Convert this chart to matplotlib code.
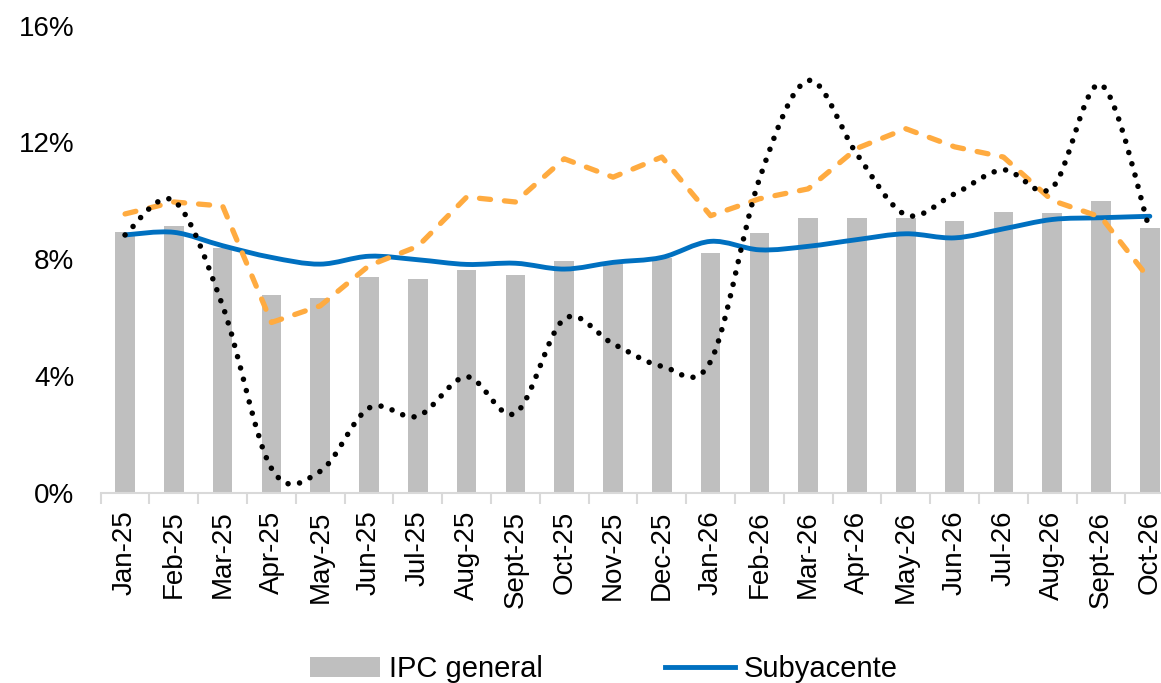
import numpy as np
import matplotlib
matplotlib.use('Agg')
import matplotlib.pyplot as plt
from matplotlib.path import Path
from matplotlib.patches import PathPatch
from matplotlib.lines import Line2D

plt.rcParams['font.family'] = ['Liberation Sans', 'DejaVu Sans']
plt.rcParams['lines.scale_dashes'] = False

months = ['Jan-25', 'Feb-25', 'Mar-25', 'Apr-25', 'May-25', 'Jun-25', 'Jul-25',
          'Aug-25', 'Sept-25', 'Oct-25', 'Nov-25', 'Dec-25', 'Jan-26', 'Feb-26',
          'Mar-26', 'Apr-26', 'May-26', 'Jun-26', 'Jul-26', 'Aug-26', 'Sept-26',
          'Oct-26']

ipc_general = [8.92, 9.15, 8.38, 6.78, 6.67, 7.38, 7.33, 7.63, 7.45, 7.94, 7.85,
               8.05, 8.20, 8.88, 9.42, 9.41, 9.42, 9.32, 9.60, 9.58, 9.99, 9.08]
subyacente = [8.83, 8.92, 8.46, 8.06, 7.83, 8.10, 7.98, 7.82, 7.86, 7.66, 7.89,
              8.06, 8.61, 8.32, 8.44, 8.67, 8.87, 8.73, 9.04, 9.36, 9.42, 9.47]
serie_naranja = [9.55, 9.96, 9.82, 5.83, 6.40, 7.78, 8.44, 10.13, 9.96, 11.44, 10.81,
                 11.50, 9.49, 10.07, 10.41, 11.80, 12.47, 11.85, 11.50, 10.01, 9.44, 7.30]
serie_negra = [8.83, 10.00, 6.40, 0.83, 0.73, 2.90, 2.62, 3.97, 2.72, 5.95, 5.10,
               4.33, 4.50, 10.75, 14.12, 11.59, 9.52, 10.24, 11.06, 10.45, 13.98, 8.99]

yticks = [0, 4, 8, 12, 16]


def smooth_path(x, y):
    # bezier a la Excel (catmull-rom)
    n = len(x)
    verts = [(x[0], y[0])]
    codes = [Path.MOVETO]
    for i in range(n - 1):
        xa, ya = (x[i - 1], y[i - 1]) if i > 0 else (x[i], y[i])
        xb, yb = (x[i + 2], y[i + 2]) if i + 2 < n else (x[i + 1], y[i + 1])
        c1 = (x[i] + (x[i + 1] - xa) / 6, y[i] + (y[i + 1] - ya) / 6)
        c2 = (x[i + 1] - (xb - x[i]) / 6, y[i + 1] - (yb - y[i]) / 6)
        verts += [c1, c2, (x[i + 1], y[i + 1])]
        codes += [Path.CURVE4] * 3
    return Path(verts, codes)


def main():
    fig = plt.figure(figsize=(11.61, 6.83), dpi=100)
    ax = fig.add_axes([0.0867, 0.2788, 0.9247, 0.6835])
    x = np.arange(len(months))

    bars = ax.bar(x, ipc_general, width=0.4, color='#bfbfbf', zorder=1)

    blue = PathPatch(smooth_path(x, subyacente), facecolor='none', edgecolor='#0070c0',
                     lw=3.5, zorder=2)
    blue.set_capstyle('round')
    blue.set_joinstyle('round')
    ax.add_patch(blue)

    ax.plot(x, serie_naranja, color='#ffab40', lw=3.8, dashes=(8.0, 10.0),
            dash_capstyle='round', solid_joinstyle='round', zorder=3)

    black = PathPatch(smooth_path(x, serie_negra), facecolor='none', edgecolor='black',
                      lw=4.0, linestyle=(0, (0.01, 8.4)), zorder=4)
    black.set_capstyle('round')
    ax.add_patch(black)

    ax.set_xlim(-0.5, len(months) - 0.5)
    ax.set_ylim(0, 16)
    ax.set_xticks(x)
    ax.set_xticklabels(months, rotation=90, fontsize=20)
    ax.set_xticks(np.arange(-0.5, len(months), 1), minor=True)
    ax.set_yticks(yticks)
    ax.set_yticklabels([f'{v}%' for v in yticks], fontsize=20)

    ax.tick_params(axis='x', which='major', length=0, pad=13)
    ax.tick_params(axis='x', which='minor', length=8, width=1.5, color='#d9d9d9')
    ax.tick_params(axis='y', length=0, pad=19)
    for s in ['top', 'right', 'left']:
        ax.spines[s].set_visible(False)
    ax.spines['bottom'].set_color('#d9d9d9')
    ax.spines['bottom'].set_linewidth(1.5)

    handles = [bars, Line2D([], [], color='#0070c0', lw=3.5)]
    fig.legend(handles, ['IPC general', 'Subyacente'], loc='center', ncol=2,
               bbox_to_anchor=(0.52, 0.02), bbox_transform=fig.transFigure,
               frameon=False, fontsize=21, handlelength=2.4, handletextpad=0.3,
               columnspacing=4.2)

    fig.savefig('out.png', dpi=100)


if __name__ == '__main__':
    main()
